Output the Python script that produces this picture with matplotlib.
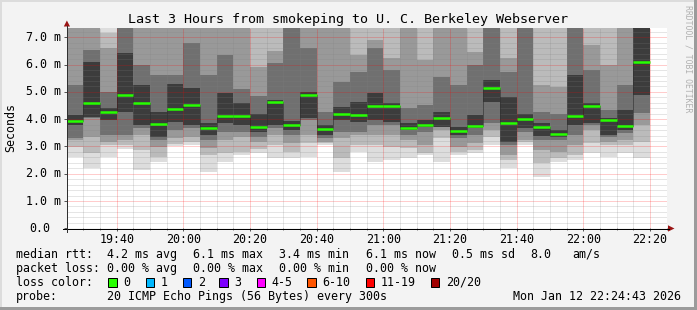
import matplotlib
matplotlib.use('Agg')
import matplotlib.pyplot as plt
from matplotlib.lines import Line2D
from matplotlib.patches import Polygon, Rectangle
import numpy as np

W, H = 697, 310
MONO = 'DejaVu Sans Mono'

# 5-minute columns starting 19:25 (minutes after 19:25)
starts = np.arange(35) * 5

# median rtt per column (ms)
med = [3.93, 4.60, 4.27, 4.90, 4.60, 3.81, 4.38, 4.52, 3.69, 4.13,
       4.13, 3.72, 4.64, 3.79, 4.88, 3.64, 4.19, 4.15, 4.49, 4.49,
       3.69, 3.79, 4.05, 3.56, 3.76, 5.15, 3.85, 4.00, 3.70, 3.44,
       4.11, 4.49, 3.97, 3.75, 6.10]

# smoke: nested ping ranges, outermost (lo0/hi0) to innermost (lo4/hi4), ms
lo0 = [2.63, 2.20, 2.61, 2.90, 2.14, 2.44, 3.00, 3.05, 2.08, 2.44,
       2.69, 2.75, 2.56, 2.56, 2.63, 3.05, 2.08, 2.81, 2.44, 2.50,
       2.56, 2.69, 2.44, 2.69, 2.75, 3.05, 2.20, 3.05, 1.89, 2.44,
       2.50, 2.75, 2.63, 2.75, 2.56]
lo1 = [2.99, 2.75, 3.05, 3.05, 2.87, 2.63, 3.10, 3.17, 2.69, 2.75,
       2.81, 2.90, 3.05, 2.81, 3.11, 3.11, 2.56, 3.05, 3.05, 2.99,
       2.93, 2.75, 3.30, 2.81, 2.87, 3.36, 2.50, 3.17, 2.38, 2.56,
       2.69, 3.11, 3.05, 3.05, 3.17]
lo2 = [3.24, 3.36, 3.17, 3.25, 3.42, 2.99, 3.30, 3.36, 2.93, 3.24,
       3.36, 3.17, 3.42, 3.11, 3.42, 3.17, 3.30, 3.42, 3.42, 3.42,
       3.24, 3.05, 3.60, 2.99, 3.11, 3.60, 2.69, 3.24, 2.87, 2.81,
       3.05, 3.60, 3.17, 3.24, 3.79]
lo3 = [3.30, 4.05, 3.42, 3.42, 3.66, 3.24, 3.60, 3.66, 3.24, 3.54,
       3.54, 3.36, 3.66, 3.42, 3.97, 3.30, 3.54, 3.54, 3.79, 3.79,
       3.42, 3.54, 3.70, 3.30, 3.42, 3.85, 3.05, 3.54, 3.24, 3.24,
       3.42, 3.79, 3.36, 3.48, 4.21]
lo4 = [3.79, 4.09, 3.97, 4.27, 3.79, 3.36, 3.90, 3.79, 3.42, 3.85,
       3.79, 3.54, 3.79, 3.60, 4.03, 3.42, 3.97, 3.91, 3.97, 3.91,
       3.60, 3.72, 3.70, 3.42, 3.66, 4.64, 3.17, 3.66, 3.40, 3.36,
       3.80, 3.85, 3.42, 3.60, 4.90]
hi4 = [4.15, 6.10, 4.40, 6.41, 5.25, 4.27, 5.30, 5.13, 3.85, 4.95,
       4.58, 4.20, 4.70, 3.95, 5.01, 3.79, 4.46, 4.64, 4.95, 4.58,
       3.85, 3.97, 4.27, 3.72, 4.15, 5.43, 4.83, 4.20, 3.85, 3.60,
       5.62, 4.60, 4.03, 4.35, 7.50]
hi3 = [5.25, 6.53, 5.01, 7.60, 5.98, 5.62, 5.62, 6.78, 5.62, 6.35,
       5.10, 4.85, 6.04, 7.60, 6.59, 4.27, 5.37, 5.74, 6.59, 5.80,
       4.40, 4.52, 5.55, 5.25, 5.98, 7.60, 5.74, 7.60, 4.27, 4.20,
       7.60, 5.80, 4.33, 5.25, 8.00]
hi2 = [7.60, 7.60, 6.59, 8.00, 7.60, 7.60, 7.60, 7.60, 7.60, 7.60,
       7.60, 5.92, 6.50, 8.00, 7.60, 7.60, 7.60, 6.35, 6.90, 6.23,
       7.60, 6.17, 7.60, 7.60, 6.47, 8.00, 6.23, 8.00, 5.25, 5.19,
       8.00, 6.72, 5.98, 7.60, 8.50]
hi1 = [8.2, 8.2, 7.15, 8.2, 8.2, 8.2, 8.2, 8.2, 8.2, 8.2,
       8.2, 8.2, 8.2, 8.2, 8.2, 8.2, 8.2, 8.2, 8.2, 8.2,
       8.2, 8.2, 8.2, 8.2, 8.2, 8.2, 8.2, 8.2, 8.2, 8.2,
       8.2, 8.2, 8.2, 8.2, 8.8]
hi0 = [9.0, 9.0, 9.0, 9.0, 9.0, 9.0, 9.0, 9.0, 9.0, 9.0,
       9.0, 9.0, 9.0, 9.0, 9.0, 9.0, 9.0, 9.0, 9.0, 9.0,
       9.0, 9.0, 9.0, 9.0, 9.0, 9.0, 9.0, 9.0, 9.0, 9.0,
       9.0, 9.0, 9.0, 9.0, 9.5]

xtick_pos = [15, 35, 55, 75, 95, 115, 135, 155, 175]
xtick_labels = ['19:40', '20:00', '20:20', '20:40', '21:00',
                '21:20', '21:40', '22:00', '22:20']
ytick_vals = [0, 1, 2, 3, 4, 5, 6, 7]
ytick_labels = ['0.0', '1.0 m', '2.0 m', '3.0 m', '4.0 m', '5.0 m', '6.0 m', '7.0 m']

title = 'Last 3 Hours from smokeping to U. C. Berkeley Webserver'
rtt_items = ['4.2 ms avg', '6.1 ms max', '3.4 ms min', '6.1 ms now', '0.5 ms sd', '8.0', 'am/s']
loss_items = ['0.00 % avg', '0.00 % max', '0.00 % min', '0.00 % now']
loss_labels = ['0', '1', '2', '3', '4-5', '6-10', '11-19', '20/20']
loss_colors = ['#26ff00', '#00b8ff', '#0059ff', '#7e00ff', '#ff00ff', '#ff5500', '#ff0000', '#a10000']
probe_text = '20 ICMP Echo Pings (56 Bytes) every 300s'
stamp = 'Mon Jan 12 22:24:43 2026'

smoke_colors = ['#dddddd', '#bbbbbb', '#999999', '#707070', '#3c3c3c']

fig = plt.figure(figsize=(W / 100, H / 100), dpi=100, facecolor='#f3f3f3')


def fx(x):
    return x / W


def fy(y):
    return 1 - y / H


# frame shading
fig.add_artist(Rectangle((0, 1 - 2 / H), 1, 2 / H, transform=fig.transFigure, color='#dcdcdc', lw=0))
fig.add_artist(Rectangle((0, 0), 2 / W, 1, transform=fig.transFigure, color='#dcdcdc', lw=0))
fig.add_artist(Rectangle((1 - 3 / W, 0), 3 / W, 1, transform=fig.transFigure, color='#9b9b9b', lw=0))
fig.add_artist(Rectangle((0, 0), 1, 3 / H, transform=fig.transFigure, color='#9b9b9b', lw=0))

ax = fig.add_axes([fx(66.7), fy(228.3), 600 / W, 200 / H])
ax.set_facecolor('white')
ax.set_xlim(0, 180)
ax.set_ylim(0, 7.33)
for s in ax.spines.values():
    s.set_visible(False)

levels = [(lo0, hi0), (lo1, hi1), (lo2, hi2), (lo3, hi3), (lo4, hi4)]
for (lo, hi), c in zip(levels, smoke_colors):
    lo = np.array(lo)
    hi = np.array(hi)
    ax.bar(starts, hi - lo, bottom=lo, width=5, align='edge', color=c,
           linewidth=0, antialiased=False, zorder=1)

# grid (dotted, drawn over the smoke like rrdtool does)
px = 0.72
dots = (0, (1, 1))
minor_c = (0.5, 0.5, 0.5, 0.4)
major_c = (1, 0, 0, 0.4)
for y in np.arange(0.2, 7.33, 0.2):
    if abs(y - round(y)) > 1e-6:
        ax.axhline(y, color=minor_c, lw=px, ls=dots, zorder=3)
for y in range(1, 8):
    ax.axhline(y, color=major_c, lw=px, ls=dots, zorder=3)
for x in range(5, 181, 5):
    if x not in xtick_pos:
        ax.axvline(x, color=minor_c, lw=px, ls=dots, zorder=3)
for x in xtick_pos:
    ax.axvline(x, color=major_c, lw=px, ls=dots, zorder=3)

# median line with dotted step connectors
med = np.array(med)
ax.vlines(starts[1:], med[:-1], med[1:], colors='#202020', linestyles=dots, lw=px, zorder=4)
ax.hlines(med, starts, starts + 5, colors=loss_colors[0], lw=1.8, zorder=5)

ax.set_xticks(xtick_pos)
ax.set_xticklabels(xtick_labels, fontfamily=MONO, fontsize=8.4)
ax.set_xticks(np.arange(0, 181, 5), minor=True)
ax.set_yticks(ytick_vals)
ax.set_yticklabels([])
ax.tick_params(axis='x', which='major', length=3 * px, width=px, color='#555555', pad=1.0)
ax.tick_params(axis='x', which='minor', length=2 * px, width=px, color='#777777')
ax.tick_params(axis='y', which='major', length=3 * px, width=px, color='#555555')

for v, lab in zip(ytick_vals, ytick_labels):
    ypix = 228.3 - v * 200 / 7.33
    if v == 0:
        fig.text(fx(29.5), fy(ypix), lab, ha='left', va='center', fontfamily=MONO, fontsize=8.4)
    else:
        fig.text(fx(60.5), fy(ypix), lab, ha='right', va='center', fontfamily=MONO, fontsize=8.4)

# axes with arrows
fig.add_artist(Line2D([fx(62.5), fx(669)], [fy(228.5), fy(228.5)], color='black', lw=px))
fig.add_artist(Line2D([fx(66.8), fx(66.8)], [fy(232), fy(26)], color='#303030', lw=px))
fig.add_artist(Polygon([(fx(668), fy(225.3)), (fx(668), fy(231.6)), (fx(674.5), fy(228.5))],
                       closed=True, transform=fig.transFigure, color='#9a1414', lw=0))
fig.add_artist(Polygon([(fx(63.8), fy(26.5)), (fx(70), fy(26.5)), (fx(66.9), fy(20.5))],
                       closed=True, transform=fig.transFigure, color='#9a1414', lw=0))

fig.text(fx(348.5), fy(19.3), title, ha='center', va='center', fontfamily=MONO, fontsize=9.6)
fig.text(fx(10.8), fy(128), 'Seconds', rotation=90, ha='center', va='center', fontfamily=MONO, fontsize=8.4)
fig.text(fx(688), fy(5), 'RRDTOOL / TOBI OETIKER', rotation=270, ha='center', va='top',
         fontfamily=MONO, fontsize=5.9, color='#b0b0b0')

# legend
leg = dict(ha='left', va='center', fontfamily=MONO, fontsize=8.4)
rows = [254.3, 268.3, 282.3, 296.3]
fig.text(fx(16), fy(rows[0]), 'median rtt:', **leg)
for x, t in zip([107.3, 193.3, 279.3, 365.7, 451.7, 530, 572.3], rtt_items):
    fig.text(fx(x), fy(rows[0]), t, **leg)
fig.text(fx(16), fy(rows[1]), 'packet loss:', **leg)
for x, t in zip([107.3, 193.3, 279.3, 365.7], loss_items):
    fig.text(fx(x), fy(rows[1]), t, **leg)
fig.text(fx(16), fy(rows[2]), 'loss color:', **leg)
box_x = [108.3, 146, 182.7, 219.3, 256.7, 307.3, 365.7, 430.7]
for x, lab, c in zip(box_x, loss_labels, loss_colors):
    fig.add_artist(Rectangle((fx(x), fy(286.7)), 8.3 / W, 8.3 / H, transform=fig.transFigure,
                             facecolor=c, edgecolor='black', lw=px))
    fig.text(fx(x + 15), fy(rows[2]), lab, **leg)
fig.text(fx(16), fy(rows[3]), 'probe:', **leg)
fig.text(fx(107.3), fy(rows[3]), probe_text, **leg)
fig.text(fx(512.7), fy(rows[3]), stamp, **leg)

fig.savefig('out.png', dpi=100, facecolor=fig.get_facecolor())
